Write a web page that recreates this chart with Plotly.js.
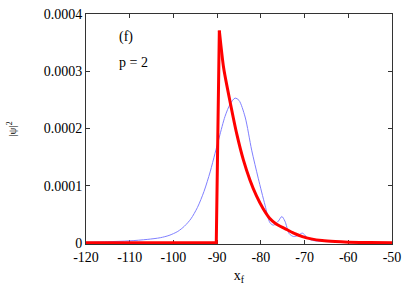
<!DOCTYPE html>
<html>
<head>
<meta charset="utf-8">
<script src="https://cdn.plot.ly/plotly-3.0.1.min.js"></script>
<style>html,body{margin:0;padding:0;background:#fff;}#chart{width:409px;height:286px;}</style>
</head>
<body>
<div id="chart"></div>
<script>
// red curve: flat part and jump, then decay
var redJumpX = [-120, -90.2, -89.5];
var redJumpY = [0, 0, 0.000371];
var redDecayX = [-89.5, -88.5, -87, -85.5, -84, -82.5, -81, -79.5, -78, -76.5, -74.5, -72.5, -70.5, -68.5, -66, -63, -60, -55, -50];
var redDecayY = [0.000371, 0.000305, 0.000245, 0.000190, 0.000145, 0.000110, 0.000082, 0.000060, 0.000043, 0.000033, 0.000025, 0.000017, 0.000011, 0.000007, 0.000004, 0.0000022, 0.0000012, 0.0000005, 0.0000002];

var blueX = [-120, -115, -110, -106, -103, -101, -99, -97.5, -96, -94.5, -93, -91.6, -90.5, -89.5, -88.2, -87, -85.9, -85, -83.6, -82.1, -80.6, -79.05, -77.9, -77.1, -76, -75.2, -74.5, -73.5, -72.5, -71.5, -70.5, -69.5, -68.5, -67, -64, -60, -55, -50];
var blueY = [0.000001, 0.000002, 0.0000035, 0.000006, 0.000009, 0.000013, 0.000020, 0.000029, 0.000042, 0.000062, 0.000090, 0.000124, 0.000156, 0.000185, 0.000221, 0.000243, 0.000253, 0.000249, 0.000220, 0.000162, 0.000113, 0.000066, 0.000035, 0.000031, 0.000038, 0.000046, 0.000038, 0.000016, 0.000011, 0.000013, 0.000017, 0.000010, 0.000005, 0.000003, 0.000002, 0.000001, 0.0000004, 0.0000002];

var xTicks = [-120, -110, -100, -90, -80, -70, -60, -50];
var xTickText = ['-120', '-110', '-100', '-90', '-80', '-70', '-60', '-50'];
var yTicks = [0, 0.0001, 0.0002, 0.0003, 0.0004];
var yTickText = ['0', '0.0001', '0.0002', '0.0003', '0.0004'];

var traces = [
  {x: blueX, y: blueY, type: 'scatter', mode: 'lines', line: {color: '#8080ff', width: 1, shape: 'spline', smoothing: 0.8}, hoverinfo: 'none'},
  {x: redJumpX, y: redJumpY, type: 'scatter', mode: 'lines', line: {color: '#ff0000', width: 3}, hoverinfo: 'none'},
  {x: redDecayX, y: redDecayY, type: 'scatter', mode: 'lines', line: {color: '#ff0000', width: 3, shape: 'spline', smoothing: 0.7}, hoverinfo: 'none'}
];

var fam = '"Liberation Serif", "Times New Roman", serif';
var font = {family: fam, size: 14, color: '#000'};
var axisCommon = {
  showgrid: false, zeroline: false, showline: true, linecolor: '#333', linewidth: 1,
  mirror: 'allticks', ticks: 'inside', ticklen: 4, tickcolor: '#333', tickwidth: 1,
  tickfont: font, layer: 'below traces'
};

var layout = {
  width: 409, height: 286,
  margin: {l: 86, r: 17, t: 14, b: 42},
  paper_bgcolor: '#fff', plot_bgcolor: '#fff',
  showlegend: false,
  font: font,
  xaxis: Object.assign({}, axisCommon, {
    range: [-120, -50], tickvals: xTicks, ticktext: xTickText,
    title: {text: 'x<sub>f</sub>', font: font, standoff: 6}
  }),
  yaxis: Object.assign({}, axisCommon, {
    range: [-0.000002, 0.0004], tickvals: yTicks, ticktext: yTickText,
    title: {text: '|ψ|<sup>2</sup>', font: {family: fam, size: 11, color: '#000'}, standoff: 24}
  }),
  annotations: [
    {xref: 'paper', yref: 'paper', x: 0.1, y: 0.9, xanchor: 'left', yanchor: 'middle', text: '(f)', showarrow: false, font: font},
    {xref: 'paper', yref: 'paper', x: 0.1, y: 0.79, xanchor: 'left', yanchor: 'middle', text: 'p = 2', showarrow: false, font: font}
  ]
};

Plotly.newPlot('chart', traces, layout, {staticPlot: true, displayModeBar: false});
</script>
</body>
</html>
